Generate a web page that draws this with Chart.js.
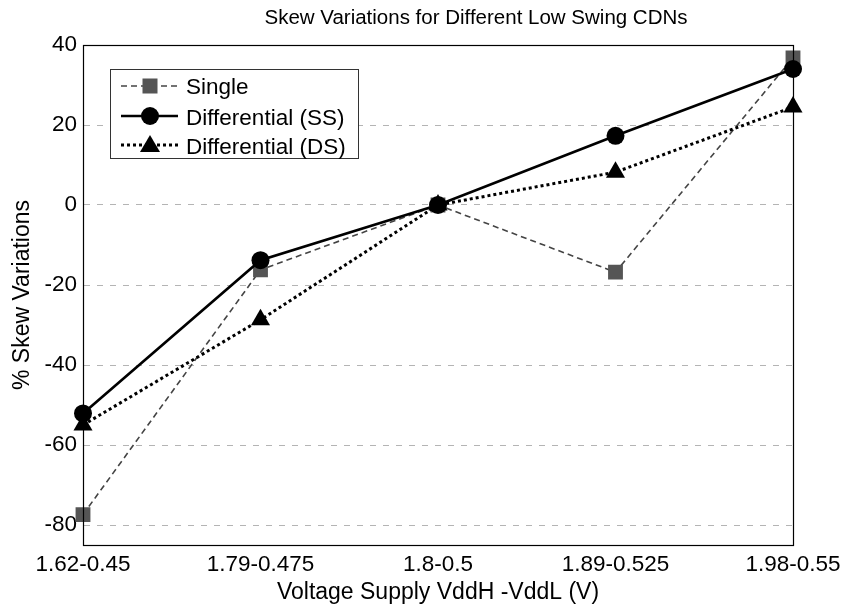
<!DOCTYPE html>
<html>
<head>
<meta charset="utf-8">
<script src="https://cdn.jsdelivr.net/npm/chart.js@4"></script>
<style>
html,body{margin:0;padding:0;background:#fff;}
#wrap{width:849px;height:609px;position:relative;}
</style>
</head>
<body>
<div id="wrap"><canvas id="c" width="849" height="609"></canvas></div>
<script>
const categories = ["1.62-0.45", "1.79-0.475", "1.8-0.5", "1.89-0.525", "1.98-0.55"];
const singleValues = [-77.4, -16.2, 0, -16.8, 36.8];
const diffSSValues = [-52.1, -13.8, 0, 17.3, 34.0];
const diffDSValues = [-55.0, -28.7, 0, 8.2, 24.5];
const yTicks = [40, 20, 0, -20, -40, -60, -80];
const seriesNames = ["Single", "Differential (SS)", "Differential (DS)"];
const chartTitle = "Skew Variations for Different Low Swing CDNs";
const xTitle = "Voltage Supply VddH -VddL (V)";
const yTitle = "% Skew Variations";

const FONT = "'Liberation Sans', Arial, Helvetica, sans-serif";

const framePlugin = {
  id: 'frame',
  afterDatasetsDraw(chart) {
    const {ctx, chartArea: a} = chart;
    ctx.save();
    ctx.strokeStyle = '#000';
    ctx.lineWidth = 1.2;
    ctx.setLineDash([]);
    ctx.strokeRect(a.left + 0.5, a.top + 0.5, a.right - a.left, a.bottom - a.top);
    ctx.restore();
  },
  afterDraw(chart) {
    const {ctx, chartArea: a} = chart;
    ctx.save();
    ctx.fillStyle = '#000';
    ctx.font = "20.5px " + FONT;
    ctx.textAlign = 'center';
    ctx.textBaseline = 'middle';
    ctx.fillText(chartTitle, (a.left + a.right) / 2 + 38, 18);
    const lx = 110, ly = 69, lw = 248, lh = 89;
    ctx.fillStyle = '#fff';
    ctx.fillRect(lx, ly, lw, lh);
    ctx.strokeStyle = '#333';
    ctx.lineWidth = 1;
    ctx.strokeRect(lx + 0.5, ly + 0.5, lw, lh);
    const rows = [86, 116, 145];
    const textRows = [88, 119, 148];
    chart.data.datasets.forEach((ds, i) => {
      const y = rows[i];
      ctx.save();
      ctx.strokeStyle = ds.borderColor;
      ctx.lineWidth = ds.borderWidth;
      ctx.setLineDash(ds.borderDash || []);
      ctx.beginPath();
      ctx.moveTo(121, y);
      ctx.lineTo(178, y);
      ctx.stroke();
      ctx.restore();
      ctx.save();
      ctx.fillStyle = ds.pointBackgroundColor;
      const cx = 150;
      if (ds.pointStyle === 'rect') {
        ctx.fillRect(cx - 7.5, y - 7.5, 15, 15);
      } else if (ds.pointStyle === 'circle') {
        ctx.beginPath(); ctx.arc(cx, y, 9, 0, Math.PI * 2); ctx.fill();
      } else {
        ctx.beginPath();
        ctx.moveTo(cx, y - 10); ctx.lineTo(cx + 10, y + 7); ctx.lineTo(cx - 10, y + 7);
        ctx.closePath(); ctx.fill();
      }
      ctx.restore();
      ctx.fillStyle = '#000';
      ctx.font = "22.5px " + FONT;
      ctx.textAlign = 'left';
      ctx.textBaseline = 'middle';
      ctx.fillText(ds.label, 186, textRows[i]);
    });
    ctx.restore();
  }
};

new Chart(document.getElementById('c'), {
  type: 'line',
  data: {
    labels: categories,
    datasets: [
      {
        label: seriesNames[0],
        data: singleValues,
        borderColor: '#444',
        borderWidth: 1.6,
        borderDash: [6, 4],
        pointStyle: 'rect',
        pointRadius: 10.5,
        pointBackgroundColor: '#555',
        pointBorderColor: '#555',
        pointBorderWidth: 0,
        order: 3
      },
      {
        label: seriesNames[1],
        data: diffSSValues,
        borderColor: '#000',
        borderWidth: 2.6,
        pointStyle: 'circle',
        pointRadius: 9,
        pointBackgroundColor: '#000',
        pointBorderColor: '#000',
        pointBorderWidth: 0,
        order: 2
      },
      {
        label: seriesNames[2],
        data: diffDSValues,
        borderColor: '#000',
        borderWidth: 3,
        borderDash: [3, 3],
        pointStyle: 'triangle',
        pointRadius: 11,
        pointBackgroundColor: '#000',
        pointBorderColor: '#000',
        pointBorderWidth: 0,
        order: 1
      }
    ]
  },
  options: {
    responsive: false,
    animation: false,
    layout: { padding: { top: 45, right: 56, left: 0, bottom: 0 } },
    plugins: { legend: { display: false }, title: { display: false }, tooltip: { enabled: false } },
    elements: { line: { tension: 0 } },
    scales: {
      x: {
        type: 'category',
        offset: false,
        grid: { display: false, drawTicks: false },
        border: { display: true, color: '#000', width: 1 },
        ticks: { color: '#000', font: { family: FONT, size: 22.5 }, padding: 6, maxRotation: 0, autoSkip: false },
        title: { display: true, text: xTitle, color: '#000', font: { family: FONT, size: 23 }, padding: { top: 0, bottom: 3 } },
        afterFit(scale) { scale.height = 64; }
      },
      y: {
        min: -85,
        max: 40,
        afterBuildTicks(scale) { scale.ticks = yTicks.map(v => ({ value: v })); },
        grid: { color: '#b4b4b4', lineWidth: 1, drawTicks: false },
        border: { display: true, color: '#000', width: 1, dash: [6, 7] },
        ticks: { color: '#000', font: { family: FONT, size: 22.5 }, padding: 6 },
        title: { display: true, text: yTitle, color: '#000', font: { family: FONT, size: 23 }, padding: { top: 9, bottom: 0 } },
        afterFit(scale) { scale.width = 83; }
      }
    }
  },
  plugins: [framePlugin]
});
</script>
</body>
</html>
